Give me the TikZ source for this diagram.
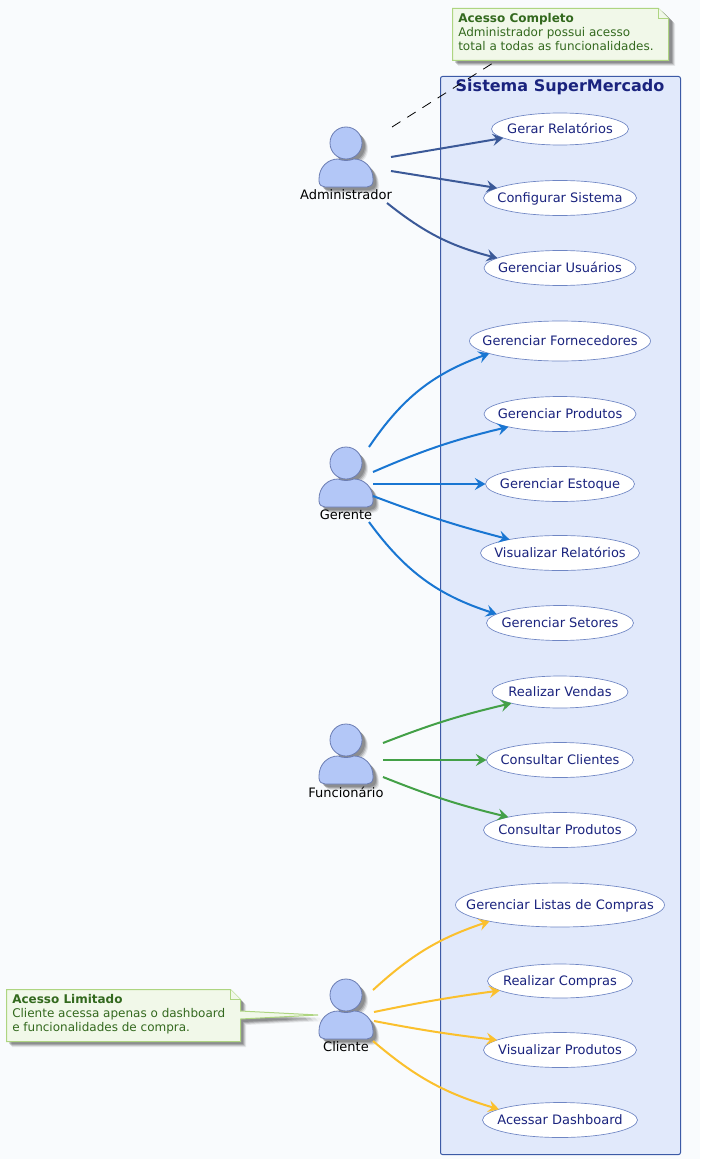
\documentclass[tikz,border=0pt]{standalone}
\usepackage{fontspec}
\setmainfont{DejaVu Sans}
\usetikzlibrary{arrows.meta,shapes.geometric}
\definecolor{bgc}{HTML}{F9FBFD}
\definecolor{pkgfill}{HTML}{E1E9FB}
\definecolor{pkgline}{HTML}{3C5AA6}
\definecolor{ink}{HTML}{1A237E}
\definecolor{ucline}{HTML}{6F86C4}
\definecolor{actfill}{HTML}{B3C7F7}
\definecolor{actline}{HTML}{6B7DB3}
\definecolor{notefill}{HTML}{F1F8E9}
\definecolor{noteline}{HTML}{AED581}
\definecolor{noteink}{HTML}{33691E}
\definecolor{cadm}{HTML}{3B5998}
\definecolor{cger}{HTML}{1976D2}
\definecolor{cfun}{HTML}{43A047}
\definecolor{ccli}{HTML}{FBC02D}
\tikzset{
  x=0.75pt,y=-0.75pt,
  usecase/.style={ellipse,draw=ucline,fill=white,line width=0.5pt,text=ink,font=\fontsize{9.75pt}{12pt}\selectfont,inner sep=0pt,outer sep=0pt},
  linkarrow/.style={line width=1.5pt,-{Stealth[length=8pt,width=9pt,inset=3pt]}},
  actorlabel/.style={font=\fontsize{9.75pt}{12pt}\selectfont,text=black,inner sep=0pt},
  notetext/.style={anchor=north west,align=left,inner sep=0pt,text=noteink,font=\fontsize{9pt}{10.5pt}\selectfont},
  noteshape/.style={fill=notefill,draw=noteline,line width=0.75pt},
}
\newcommand{\uc}[1]{\raisebox{-3.5pt}[0pt][0pt]{\makebox[0pt]{#1}}}
\newcommand{\actorbody}{(-27,36) .. controls (-27,24) and (-18,16) .. (-8,16) .. controls (-3,18) and (3,18) .. (8,16) .. controls (18,16) and (27,24) .. (27,36) -- (27,38) .. controls (27,42) and (24,44) .. (21,44) -- (-21,44) .. controls (-24,44) and (-27,42) .. (-27,38) -- cycle}
\newcommand{\actorfig}[4]{% id, x, y of head centre, label
  \begin{scope}[shift={(#2,#3)}]
    \foreach \d/\o in {6/0.08,5/0.12,4/0.16,3/0.16}{
      \fill[black,fill opacity=\o] (\d,\d) circle[radius=16*0.75pt];
      \fill[black,fill opacity=\o,shift={(\d,\d)}] \actorbody;
    }
    \draw[fill=actfill,draw=actline,line width=0.6pt] \actorbody;
    \draw[fill=actfill,draw=actline,line width=0.6pt] (0,0) circle[radius=16*0.75pt];
    \node[actorlabel] (#1) at (0,52) {#4};
  \end{scope}}
\begin{document}
\begin{tikzpicture}
\useasboundingbox (0,0) rectangle (700,1159);
\fill[bgc] (0,0) rectangle (700,1159);
% package
\draw[fill=pkgfill,draw=pkgline,line width=0.75pt,rounded corners=1.5pt] (440.5,76.5) rectangle (680.5,1154.5);
\node[text=ink,font=\bfseries\fontsize{12pt}{14pt}\selectfont,inner sep=0pt] (title) at (560,87) {Sistema SuperMercado};
% use cases
\node[usecase,minimum width=137*0.75pt,minimum height=32*0.75pt] (u1) at (560,129) {\uc{Gerar Relatórios}};
\node[usecase,minimum width=153*0.75pt,minimum height=35*0.75pt] (u2) at (560,198) {\uc{Configurar Sistema}};
\node[usecase,minimum width=152*0.75pt,minimum height=35*0.75pt] (u3) at (560,268) {\uc{Gerenciar Usuários}};
\node[usecase,minimum width=181*0.75pt,minimum height=40*0.75pt] (u4) at (560,341) {\uc{Gerenciar Fornecedores}};
\node[usecase,minimum width=152*0.75pt,minimum height=35*0.75pt] (u5) at (560,414) {\uc{Gerenciar Produtos}};
\node[usecase,minimum width=149*0.75pt,minimum height=35*0.75pt] (u6) at (560,484) {\uc{Gerenciar Estoque}};
\node[usecase,minimum width=159*0.75pt,minimum height=35*0.75pt] (u7) at (560,553) {\uc{Visualizar Relatórios}};
\node[usecase,minimum width=147*0.75pt,minimum height=35*0.75pt] (u8) at (560,623) {\uc{Gerenciar Setores}};
\node[usecase,minimum width=136*0.75pt,minimum height=32*0.75pt] (u9) at (560,692) {\uc{Realizar Vendas}};
\node[usecase,minimum width=147*0.75pt,minimum height=35*0.75pt] (u10) at (560,760) {\uc{Consultar Clientes}};
\node[usecase,minimum width=153*0.75pt,minimum height=35*0.75pt] (u11) at (560,830) {\uc{Consultar Produtos}};
\node[usecase,minimum width=209*0.75pt,minimum height=44*0.75pt] (u12) at (560,905) {\uc{Gerenciar Listas de Compras}};
\node[usecase,minimum width=145*0.75pt,minimum height=34*0.75pt] (u13) at (560,981) {\uc{Realizar Compras}};
\node[usecase,minimum width=153*0.75pt,minimum height=35*0.75pt] (u14) at (560,1050) {\uc{Visualizar Produtos}};
\node[usecase,minimum width=155*0.75pt,minimum height=35*0.75pt] (u15) at (560,1120) {\uc{Acessar Dashboard}};
% actors
\actorfig{adm}{346}{143}{Administrador}
\actorfig{ger}{346}{463}{Gerente}
\actorfig{fun}{346}{740}{Funcionário}
\actorfig{cli}{346}{995}{Cliente}
% connector start points
\coordinate (a1) at (391,157); \coordinate (a2) at (391,171); \coordinate (a3) at (387,203);
\coordinate (g1) at (369,447); \coordinate (g2) at (373,472); \coordinate (g3) at (373,484); \coordinate (g4) at (373,496); \coordinate (g5) at (369,522);
\coordinate (f1) at (383,743); \coordinate (f2) at (383,760); \coordinate (f3) at (383,777);
\coordinate (c1) at (373,990); \coordinate (c2) at (374,1012); \coordinate (c3) at (374,1021); \coordinate (c4) at (373,1041);
% connectors
\draw[linkarrow,cadm] (a1) to (u1.189);
\draw[linkarrow,cadm] (a2) to (u2.171);
\draw[linkarrow,cadm] (a3) to[bend right=12] (u3.171);
\draw[linkarrow,cger] (g1) to[bend left=18] (u4.190);
\draw[linkarrow,cger] (g2) to[bend left=5] (u5.194);
\draw[linkarrow,cger] (g3) to (u6.west);
\draw[linkarrow,cger] (g4) to[bend right=3] (u7.165);
\draw[linkarrow,cger] (g5) to[bend right=18] (u8.172);
\draw[linkarrow,cfun] (f1) to[bend left=4] (u9.193);
\draw[linkarrow,cfun] (f2) to (u10.west);
\draw[linkarrow,cfun] (f3) to[bend right=4] (u11.166);
\draw[linkarrow,ccli] (c1) to[bend left=12] (u12.193);
\draw[linkarrow,ccli] (c2) to[bend left=2] (u13.189);
\draw[linkarrow,ccli] (c3) to[bend right=2] (u14.171);
\draw[linkarrow,ccli] (c4) to[bend right=12] (u15.170);
% note 1
\foreach \d/\o in {6/0.08,5/0.12,4/0.16,3/0.16}{
  \fill[black,fill opacity=\o] (452+\d,8+\d) -- (659+\d,8+\d) -- (669+\d,18+\d) -- (669+\d,60+\d) -- (452+\d,60+\d) -- cycle;
}
\draw[noteshape] (452.5,8.5) -- (658.5,8.5) -- (668.5,18.5) -- (668.5,60.5) -- (452.5,60.5) -- cycle;
\draw[noteline,line width=0.75pt,fill=notefill] (658.5,8.5) -- (658.5,18.5) -- (668.5,18.5);
\node[notetext] (note1) at (458,13) {\textbf{Acesso Completo}\\Administrador possui acesso\\total a todas as funcionalidades.};
\coordinate (n1e) at (493,63);
\coordinate (a0) at (392,127);
\draw[black,line width=0.6pt,dash pattern=on 7.5pt off 6pt] (a0) -- (n1e);
% note 2
\foreach \d/\o in {6/0.08,5/0.12,4/0.16,3/0.16}{
  \fill[black,fill opacity=\o] (6+\d,989+\d) -- (230+\d,989+\d) -- (240+\d,999+\d) -- (240+\d,1011+\d) -- (317+\d,1015+\d) -- (240+\d,1019+\d) -- (240+\d,1041+\d) -- (6+\d,1041+\d) -- cycle;
}
\draw[noteshape] (6.5,989.5) -- (230.5,989.5) -- (240.5,999.5) -- (240.5,1011) -- (318,1015) -- (240.5,1019) -- (240.5,1041.5) -- (6.5,1041.5) -- cycle;
\draw[noteline,line width=0.75pt,fill=notefill] (230.5,989.5) -- (230.5,999.5) -- (240.5,999.5);
\node[notetext] (note2) at (12,994) {\textbf{Acesso Limitado}\\Cliente acessa apenas o dashboard\\e funcionalidades de compra.};
\end{tikzpicture}
\end{document}
